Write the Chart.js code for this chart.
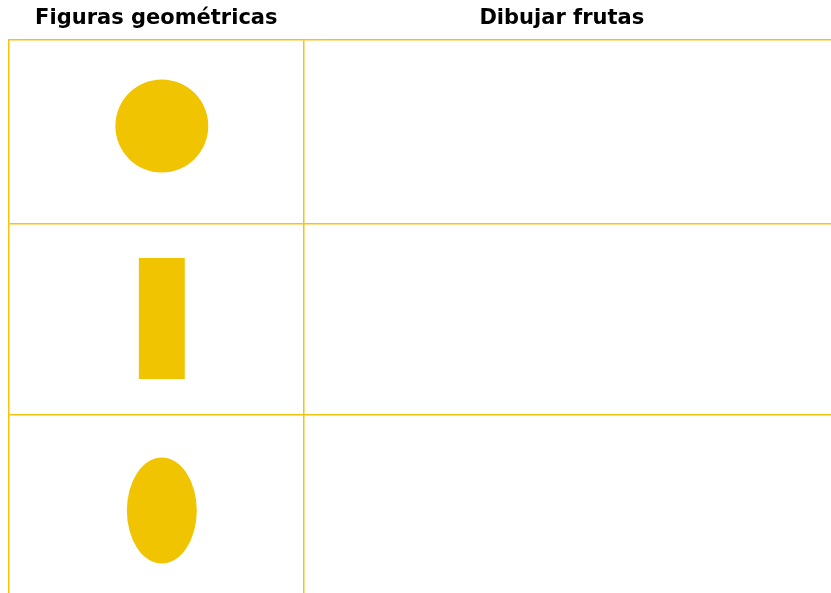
<!DOCTYPE html>
<html lang="es">
<head>
<meta charset="utf-8">
<title>Figuras geométricas</title>
<script src="https://cdn.jsdelivr.net/npm/chart.js@4/dist/chart.umd.min.js"></script>
<style>
  html, body { margin: 0; padding: 0; background: #fff; }
  #caja { width: 831px; height: 593px; }
</style>
</head>
<body>
<div id="caja"><canvas id="hoja"></canvas></div>
<script>
// encabezados de las columnas
const encabezados = ['Figuras geométricas', 'Dibujar frutas']

// figuras de la primera columna (centro, ancho y alto en unidades de la hoja)
const figuras = ['Círculo', 'Rectángulo', 'Óvalo']
const tipos = ['ellipse', 'rect', 'ellipse']
const centroX = [153, 153, 153]
const centroY = [86, 278.5, 470.5]
const anchos = [93, 46, 70]
const altos = [93, 121, 106]

// lineas de la tabla
const bordesColumnas = [0, 295]
const bordesFilas = [0, 184, 375]
const posEncabezados = [147.5, 553.5]

const amarillo = '#f0c400'
const lineaColor = '#f2c30f'
const grosor = 1.5
const nada = 'rgba(255,255,255,0)'

const ticksX = [...bordesColumnas, ...posEncabezados].sort((a, b) => a - b)
// solo las divisiones interiores llevan linea de rejilla, los bordes los pone el eje
const coloresX = ticksX.map(v => (bordesColumnas.includes(v) && v > 0) ? lineaColor : nada)
const coloresY = bordesFilas.map(v => v > 0 ? lineaColor : nada)

const dibujarFiguras = {
    id: 'dibujarFiguras',
    afterDatasetsDraw(chart) {
        const ctx = chart.ctx
        const xs = chart.scales.x
        const ys = chart.scales.y
        const meta = chart.getDatasetMeta(0)
        ctx.save()
        ctx.fillStyle = amarillo
        meta.data.forEach(function (el, i) {
            const w = Math.abs(xs.getPixelForValue(anchos[i]) - xs.getPixelForValue(0))
            const h = Math.abs(ys.getPixelForValue(altos[i]) - ys.getPixelForValue(0))
            if (tipos[i] == 'rect') {
                ctx.fillRect(el.x - w / 2, el.y - h / 2, w, h)
            } else {
                ctx.beginPath()
                ctx.ellipse(el.x, el.y, w / 2, h / 2, 0, 0, Math.PI * 2)
                ctx.fill()
            }
        })
        ctx.restore()
    }
}

new Chart(document.getElementById('hoja'), {
    type: 'scatter',
    data: {
        labels: figuras,
        datasets: [{
            label: 'Figuras',
            data: figuras.map((f, i) => ({ x: centroX[i], y: centroY[i] })),
            pointRadius: 0,
            pointHoverRadius: 0
        }]
    },
    options: {
        responsive: true,
        maintainAspectRatio: false,
        animation: false,
        events: [],
        layout: { padding: { left: 8, top: 0, right: 0, bottom: 0 } },
        plugins: {
            legend: { display: false },
            tooltip: { enabled: false }
        },
        scales: {
            x: {
                type: 'linear',
                position: 'top',
                min: 0,
                max: 823,
                afterBuildTicks: s => { s.ticks = ticksX.map(v => ({ value: v })) },
                afterFit: s => { s.height = 40 },
                ticks: {
                    autoSkip: false,
                    maxRotation: 0,
                    padding: 9,
                    color: '#000',
                    font: { family: 'DejaVu Sans', size: 21, weight: 'bold' },
                    callback: function (v) {
                        const i = posEncabezados.indexOf(v)
                        return i >= 0 ? encabezados[i] : ''
                    }
                },
                grid: {
                    drawTicks: false,
                    lineWidth: grosor,
                    color: coloresX
                },
                border: { display: true, color: lineaColor, width: grosor }
            },
            y: {
                type: 'linear',
                reverse: true,
                min: 0,
                max: 553,
                afterBuildTicks: s => { s.ticks = bordesFilas.map(v => ({ value: v })) },
                ticks: { display: false },
                grid: {
                    drawTicks: false,
                    lineWidth: grosor,
                    color: coloresY
                },
                border: { display: true, color: lineaColor, width: grosor }
            }
        }
    },
    plugins: [dibujarFiguras]
});
</script>
</body>
</html>
